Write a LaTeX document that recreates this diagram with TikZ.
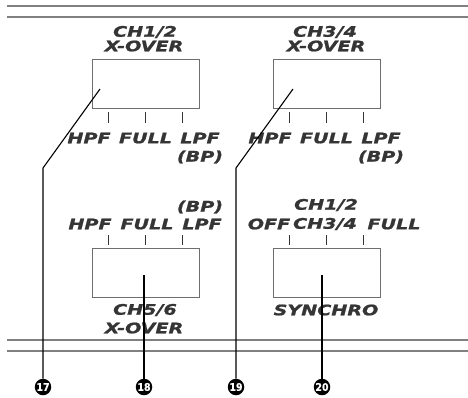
\documentclass[tikz,border=0pt]{standalone}
\usepackage{fontspec}
\newfontfamily\lblfont[FakeStretch=1.32,FakeBold=1.2]{DejaVu Sans}
\newfontfamily\numfont[FakeBold=0.6]{DejaVu Sans Condensed}
\definecolor{txtgray}{HTML}{353535}
\definecolor{rulegray}{HTML}{808080}
\definecolor{boxgray}{HTML}{6E6E6E}
\begin{document}
\begin{tikzpicture}[x=1pt,y=-1pt,
  lbl/.style={inner sep=0pt, text=txtgray, font=\lblfont\bfseries\itshape\fontsize{14.5}{14.5}\selectfont},
  swbox/.style={draw=boxgray, line width=0.9pt, minimum width=107pt, minimum height=49pt, inner sep=0pt},
  tick/.style={draw=txtgray, line width=0.9pt},
  rulel/.style={draw=rulegray, line width=1.4pt},
  leader/.style={draw=black, line width=1.1pt},
  callout/.style={circle, fill=black, minimum size=16.5pt, inner sep=0pt, text=white, font=\numfont\bfseries\fontsize{10.5}{10.5}\selectfont}]
\useasboundingbox (0,0) rectangle (468,397);
\fill[white] (0,0) rectangle (468,397);
% rules
\draw[rulel] (7,6) -- (468,6);
\draw[rulel] (7,17) -- (468,17);
\draw[rulel] (7,340) -- (468,340);
\draw[rulel] (7,351) -- (468,351);
% boxes
\node[swbox] (b1) at (145.5,83.5) {};
\node[swbox] (b2) at (326.5,83.5) {};
\node[swbox] (b3) at (145.5,273) {};
\node[swbox] (b4) at (326.5,273) {};
% ticks
\foreach \b in {b1,b2}{
  \foreach \dx in {-37,0,37}{
    \draw[tick] ([xshift=\dx pt,yshift=-4pt]\b.south) -- ([xshift=\dx pt,yshift=-15pt]\b.south);
  }}
\foreach \b in {b3,b4}{
  \foreach \dx in {-37,0,37}{
    \draw[tick] ([xshift=\dx pt,yshift=3pt]\b.north) -- ([xshift=\dx pt,yshift=13pt]\b.north);
  }}
% texts box 1
\node[lbl] (t1a) at (145,32) {CH1/2};
\node[lbl] (t1b) at (144,46) {X-OVER};
\node[lbl] (l1h) at (89,138) {HPF};
\node[lbl] (l1f) at (145.5,138) {FULL};
\node[lbl] (l1l) at (200,138) {LPF};
\node[lbl] (l1b) at (200,157) {(BP)};
% texts box 2
\node[lbl] (t2a) at (325,32) {CH3/4};
\node[lbl] (t2b) at (326,46) {X-OVER};
\node[lbl] (l2h) at (270,138) {HPF};
\node[lbl] (l2f) at (326.5,138) {FULL};
\node[lbl] (l2l) at (381,138) {LPF};
\node[lbl] (l2b) at (381,157) {(BP)};
% texts box 3
\node[lbl] (l3b) at (200,207) {(BP)};
\node[lbl] (l3h) at (90,224) {HPF};
\node[lbl] (l3f) at (147,224) {FULL};
\node[lbl] (l3l) at (202,224) {LPF};
\node[lbl] (t3a) at (145,310) {CH5/6};
\node[lbl] (t3b) at (144,328) {X-OVER};
% texts box 4
\node[lbl] (l4a) at (326,205) {CH1/2};
\node[lbl] (l4off) at (269,224) {OFF};
\node[lbl] (l4b) at (325,224) {CH3/4};
\node[lbl] (l4c) at (394,224) {FULL};
\node[lbl] (t4) at (326,310) {SYNCHRO};
% callouts
\node[callout] (c17) at (43,387) {17};
\node[callout] (c18) at (144,387) {18};
\node[callout] (c19) at (236,387) {19};
\node[callout] (c20) at (322,387) {20};
% leader points
\coordinate (p17) at (100,89);
\coordinate (k17) at (43,168);
\coordinate (p19) at (293,89);
\coordinate (k19) at (236,168);
\coordinate (p18) at (144,275);
\coordinate (p20) at (322,275);
\draw[leader] (p17) -- (k17) -- (c17.north);
\draw[leader] (p19) -- (k19) -- (c19.north);
\draw[leader] (p18) -- (c18.north);
\draw[leader] (p20) -- (c20.north);
\end{tikzpicture}
\end{document}
